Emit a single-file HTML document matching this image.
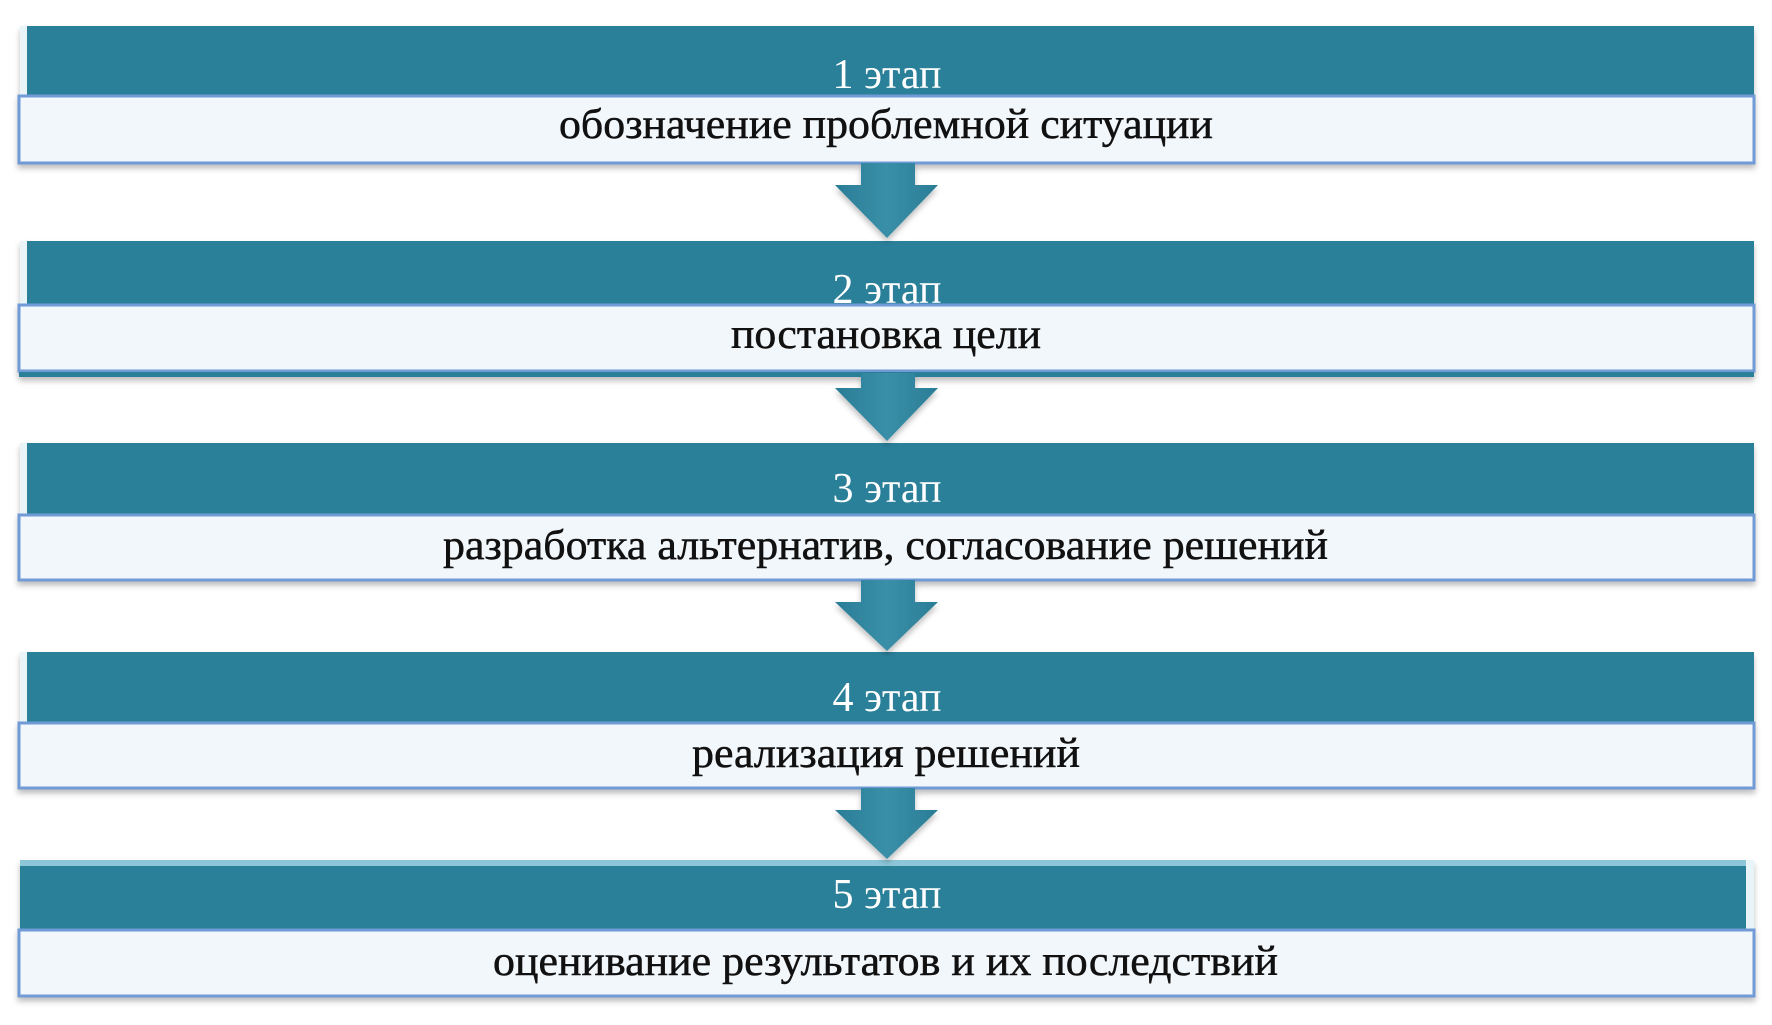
<!DOCTYPE html>
<html><head><meta charset="utf-8"><style>html,body{margin:0;padding:0;background:#fff;width:1772px;height:1025px;overflow:hidden}</style></head>
<body>
<svg width="1772" height="1025" viewBox="0 0 1772 1025" xmlns="http://www.w3.org/2000/svg" font-family="Liberation Serif, serif">
<defs>
<linearGradient id="ar" x1="0" x2="1" y1="0" y2="0"><stop offset="0" stop-color="#2a7d96"/><stop offset="0.5" stop-color="#3a8fa8"/><stop offset="1" stop-color="#2a7d96"/></linearGradient>
<filter id="sh" x="-5%" y="-20%" width="110%" height="150%"><feDropShadow dx="0" dy="4" stdDeviation="3" flood-color="#000" flood-opacity="0.25"/></filter>
</defs>
<g filter="url(#sh)">
<rect x="20" y="26" width="1734" height="70" fill="#2b8099"/>
<rect x="20" y="26" width="7" height="70" fill="#e8f4f8"/>
<rect x="19" y="96" width="1735" height="67" fill="#f2f7fb" stroke="#6f9bd6" stroke-width="3"/>
</g>
<g filter="url(#sh)">
<rect x="20" y="241" width="1734" height="64" fill="#2b8099"/>
<rect x="20" y="241" width="7" height="64" fill="#e8f4f8"/>
<rect x="19" y="305" width="1735" height="66" fill="#f2f7fb" stroke="#6f9bd6" stroke-width="3"/>
<rect x="19" y="372" width="1735" height="5" fill="#2b8099"/>
</g>
<g filter="url(#sh)">
<rect x="20" y="443" width="1734" height="72" fill="#2b8099"/>
<rect x="20" y="443" width="7" height="72" fill="#e8f4f8"/>
<rect x="19" y="515" width="1735" height="65" fill="#f2f7fb" stroke="#6f9bd6" stroke-width="3"/>
</g>
<g filter="url(#sh)">
<rect x="20" y="652" width="1734" height="71" fill="#2b8099"/>
<rect x="20" y="652" width="7" height="71" fill="#e8f4f8"/>
<rect x="19" y="723" width="1735" height="65" fill="#f2f7fb" stroke="#6f9bd6" stroke-width="3"/>
</g>
<g filter="url(#sh)">
<rect x="20" y="860" width="1734" height="70" fill="#2b8099"/>
<rect x="20" y="860" width="1734" height="6" fill="#8cc6d8"/>
<rect x="1746" y="860" width="8" height="70" fill="#e8f4f8"/>
<rect x="19" y="930" width="1735" height="66" fill="#f2f7fb" stroke="#6f9bd6" stroke-width="3"/>
</g>
<g fill="url(#ar)" filter="url(#sh)">
<polygon points="861,163 915,163 915,185 938,185 887,238 835,185 861,185"/>
<polygon points="861,373 915,373 915,388 938,388 887,441 835,388 861,388"/>
<polygon points="861,580 915,580 915,602 938,602 887,651 835,602 861,602"/>
<polygon points="861,788 915,788 915,810 938,810 887,859 835,810 861,810"/>
</g>
<g fill="#fff" font-size="42" text-anchor="middle">
<text x="887" y="88">1 этап</text>
<text x="887" y="303">2 этап</text>
<text x="887" y="502">3 этап</text>
<text x="887" y="711">4 этап</text>
<text x="887" y="908">5 этап</text>
</g>
<g fill="#111" stroke="#111" stroke-width="0.5" font-size="42">
<text x="559" y="138" textLength="654" lengthAdjust="spacingAndGlyphs">обозначение проблемной ситуации</text>
<text x="731" y="348" textLength="310" lengthAdjust="spacingAndGlyphs">постановка цели</text>
<text x="443" y="559" textLength="885" lengthAdjust="spacingAndGlyphs">разработка альтернатив, согласование решений</text>
<text x="692" y="767" textLength="388" lengthAdjust="spacingAndGlyphs">реализация решений</text>
<text x="493" y="975" textLength="785" lengthAdjust="spacingAndGlyphs">оценивание результатов и их последствий</text>
</g>
</svg>
</body></html>
